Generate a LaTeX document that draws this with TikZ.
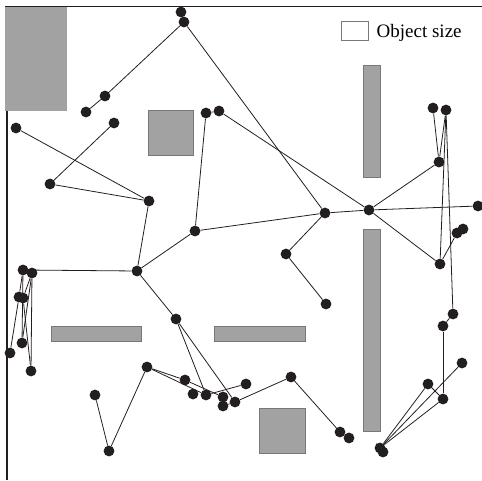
\documentclass[tikz,border=0pt]{standalone}
\usepackage{fontspec}
\setmainfont{Liberation Serif}
\definecolor{dotc}{RGB}{35,31,32}
\definecolor{obst}{RGB}{162,162,162}
\definecolor{obstedge}{RGB}{120,120,120}
\tikzset{
  dot/.style={circle, fill=dotc, inner sep=0pt, minimum size=10.8pt},
  edge/.style={draw=dotc, line width=0.8pt},
  obstacle/.style={fill=obst, draw=obstedge, line width=0.4pt},
  frame/.style={draw=dotc, line width=1.2pt},
}
\begin{document}
\begin{tikzpicture}[x=1pt,y=-1pt]
\useasboundingbox (0,0) rectangle (482,480);
% obstacles
\fill[obst] (5,7) rectangle (67,111);
\draw[obstacle] (148,110) rectangle (193,155);
\draw[obstacle] (363.5,65) rectangle (380,177.5);
\draw[obstacle] (363.5,229.5) rectangle (380.5,431);
\draw[obstacle] (51,326) rectangle (141.5,341.5);
\draw[obstacle] (214.5,326) rectangle (305,341.5);
\draw[obstacle] (259.5,408.5) rectangle (305,453.5);
% frame
\coordinate (f1) at (5,6.5);
\coordinate (f2) at (482,6.5);
\coordinate (f3) at (7,111);
\coordinate (f4) at (7,480);
\draw[frame] (f1) -- (f2);
\draw[frame] (f3) -- (f4);
% legend
\node[draw=obstedge, line width=0.7pt, minimum width=27pt, minimum height=19pt, inner sep=0pt] (legbox) at (354.6,30.5) {};
\node[anchor=base west, inner sep=0pt, font=\fontsize{19}{22}\selectfont] (legtext) at (376.5,37) {Object size};
% nodes
\foreach \n/\x/\y in {
 A1/181/12, A2/184/22, A3/105/96, A4/86/112, A5/16/128, A6/114/123,
 A7/206/113, A8/219/111, A9/50/184, A10/149/201, A11/137/271, A12/195/231,
 A13/176/319, B1/325/213, B2/369/210, B3/286/254, B4/326/304, B5/440/264,
 B6/439/162, B7/478/206, B8a/457/233, B8b/463/229, B9/453/314, C1/433/108,
 C2/446/110, L1/23/270, L2/32/273, L3a/19/297, L3b/23/298, L4/22/343,
 L5/10/353, L6/31/371, M1/147/367, M2/95/395, M3/109/451, M4/185/380,
 M5/193/394, M6/206/395, M7/223/397, M8/223/406, M9/235/402, M10/246/384,
 R1/291/377, R3/340/432, R4/349/438, S1/428/384, S2/443/399, S3/462/363,
 S4a/380/448, S4b/383/452, S5/443/326}
 { \node[dot] (\n) at (\x,\y) {}; }
% edges
\foreach \a/\b in {
 A1/A2, A2/A3, A3/A4, A2/B1, A5/A10, A6/A9, A9/A10, A10/A11, A7/A8, A7/A12,
 A11/A12, A12/B1, A8/B2, B2/B5, B1/B2, B2/B7, B2/B6, B1/B3, B3/B4, C1/B6,
 C2/B6, C2/B5, C2/B9, B5/B8a, B8a/B8b, B9/S5, S5/S2, S4a/S1, S4a/S2, S4a/S3,
 S1/S2, S4a/S4b, L1/A11, L1/L2, L1/L3a, L2/L3b, L3a/L5, L1/L4, L2/L4,
 L3b/L6, L2/L6, A11/A13, A13/M6, A13/M9, M1/M3, M2/M3, M1/M4, M1/M6,
 M4/M7, M6/M10, M9/R1, R1/R3, R3/R4, M7/M8, M8/M9}
 { \draw[edge] (\a) -- (\b); }
\end{tikzpicture}
\end{document}
